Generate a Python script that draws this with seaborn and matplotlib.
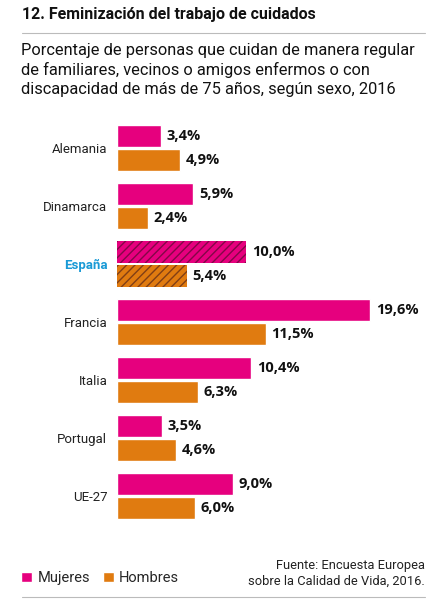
import matplotlib
matplotlib.use("Agg")
import matplotlib.pyplot as plt
import pandas as pd
import seaborn as sns

countries = ["Alemania", "Dinamarca", "España", "Francia", "Italia", "Portugal", "UE-27"]
mujeres = [3.4, 5.9, 10.0, 19.6, 10.4, 3.5, 9.0]
hombres = [4.9, 2.4, 5.4, 11.5, 6.3, 4.6, 6.0]
series = ["Mujeres", "Hombres"]
palette = {"Mujeres": "#e6007e", "Hombres": "#e07b10"}
highlight = "España"

df = pd.DataFrame({
    "pais": countries * 2,
    "sexo": [series[0]] * len(countries) + [series[1]] * len(countries),
    "valor": mujeres + hombres,
})

sns.set_style("white")
plt.rcParams["font.family"] = ["Roboto", "DejaVu Sans"]
plt.rcParams["hatch.linewidth"] = 1.0

fig = plt.figure(figsize=(4.4, 6.0), dpi=100)
ax = fig.add_axes([117 / 440, 75 / 600, 310 / 440, 406 / 600])

sns.barplot(data=df, y="pais", x="valor", hue="sexo", order=countries,
            hue_order=series, palette=palette, orient="h", width=0.82,
            gap=0.1, saturation=1, ax=ax)

ax.set_xlim(0, 24)
ax.set_ylim(len(countries) - 0.5, -0.5)
ax.set_xlabel("")
ax.set_ylabel("")
ax.set_xticks([])
sns.despine(ax=ax, left=True, bottom=True)
ax.tick_params(axis="y", length=0, pad=7)
for lbl in ax.get_yticklabels():
    lbl.set_fontsize(9.5)
    lbl.set_color("#222222")
    lbl.set_va("center_baseline")
    if lbl.get_text() == highlight:
        lbl.set_color("#1a9ad6")
        lbl.set_fontweight("bold")

# value labels, and hatching for the highlighted country
idx = countries.index(highlight)
for cont in ax.containers:
    ax.bar_label(cont, labels=[f"{v:.1f}%".replace(".", ",") for v in cont.datavalues],
                 padding=4, fontsize=10.5, fontweight="bold", color="#111111",
                 family=["Open Sans", "DejaVu Sans"])
    p = cont.patches[idx]
    p.set_hatch("////")
    p.set_edgecolor((0.2, 0.05, 0.1, 0.55))
    p.set_linewidth(0)

handles, labels = ax.get_legend_handles_labels()
ax.get_legend().remove()
fig.legend(handles, labels, loc="lower left", bbox_to_anchor=(0.035, 0.015),
           ncol=2, frameon=False, fontsize=10.5, handlelength=0.75,
           handleheight=0.75, handletextpad=0.35, columnspacing=0.9,
           borderaxespad=0)

fig.text(22 / 440, 1 - 14 / 600, "12. Feminización del trabajo de cuidados",
         fontsize=11.5, fontweight="bold", va="center", ha="left", color="#111111")
fig.add_artist(plt.Line2D([22 / 440, 425 / 440], [1 - 33 / 600] * 2,
                          color="#bbbbbb", lw=0.8))
fig.text(21 / 440, 1 - 43 / 600,
         "Porcentaje de personas que cuidan de manera regular\n"
         "de familiares, vecinos o amigos enfermos o con\n"
         "discapacidad de más de 75 años, según sexo, 2016",
         fontsize=11.75, va="top", ha="left", linespacing=1.3, color="#111111")
fig.text(425 / 440, 1 - 588 / 600,
         "Fuente: Encuesta Europea\nsobre la Calidad de Vida, 2016.",
         fontsize=9.3, va="bottom", ha="right", linespacing=1.35, color="#222222")
fig.add_artist(plt.Line2D([22 / 440, 425 / 440], [1 - 597 / 600] * 2,
                          color="#bbbbbb", lw=0.8))

fig.savefig("out.png", dpi=100)
